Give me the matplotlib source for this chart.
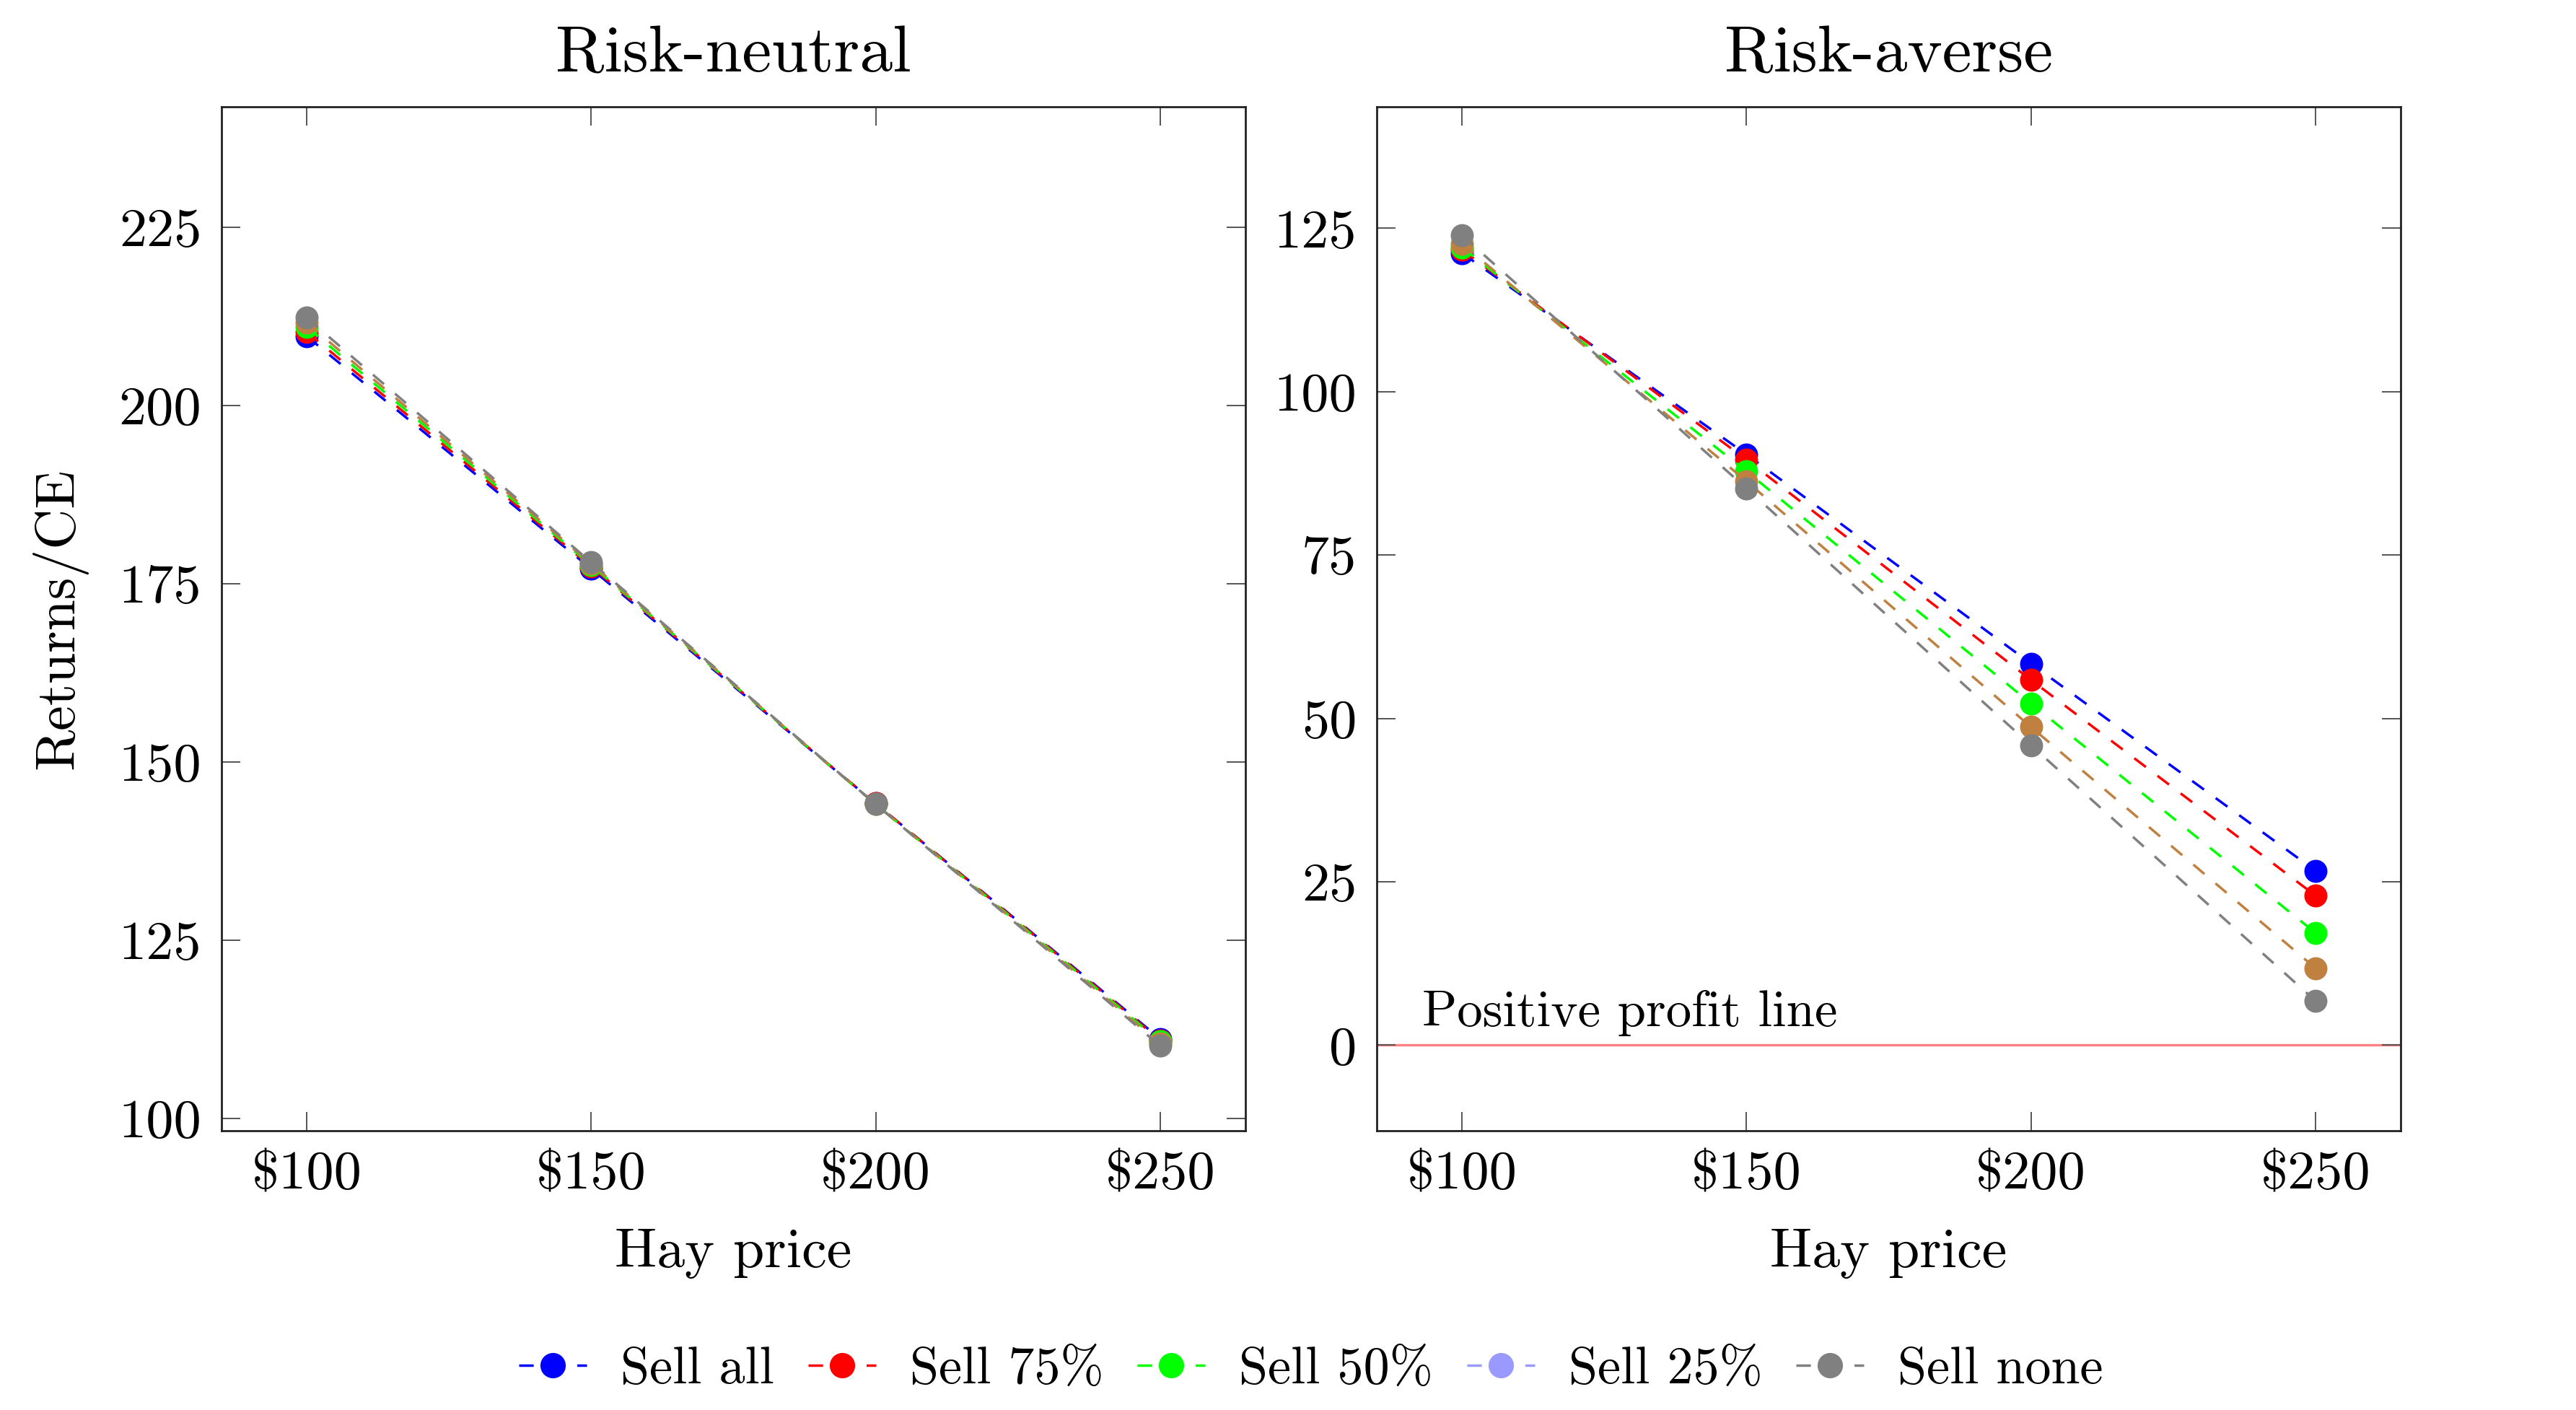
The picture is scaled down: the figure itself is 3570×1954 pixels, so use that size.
import matplotlib
matplotlib.use("Agg")
import matplotlib.pyplot as plt
from matplotlib.lines import Line2D

plt.rcParams['font.family'] = ['cmr10', 'DejaVu Serif']
plt.rcParams['axes.formatter.use_mathtext'] = True

hay_price = [100, 150, 200, 250]
x_tick_labels = ['\\$100', '\\$150', '\\$200', '\\$250']
series_names = ['Sell all', 'Sell 75%', 'Sell 50%', 'Sell 25%', 'Sell none']

neutral_sell_all = [209.7, 177.1, 144.2, 111.2]
neutral_sell_75 = [210.3, 177.4, 144.2, 111.0]
neutral_sell_50 = [211.0, 177.6, 144.1, 110.8]
neutral_sell_25 = [211.6, 177.8, 144.1, 110.5]
neutral_sell_none = [212.3, 178.0, 144.1, 110.2]

averse_sell_all = [121.2, 90.4, 58.4, 26.7]
averse_sell_75 = [121.7, 89.6, 55.9, 22.9]
averse_sell_50 = [122.1, 87.8, 52.3, 17.2]
averse_sell_25 = [122.6, 86.3, 48.7, 11.8]
averse_sell_none = [123.9, 85.2, 45.9, 6.8]

neutral_yticks = [100, 125, 150, 175, 200, 225]
averse_yticks = [0, 25, 50, 75, 100, 125]

line_colors = ['#0000FF', '#FF0000', '#00FF00', '#BF8040', '#808080']
legend_colors = ['#0000FF', '#FF0000', '#00FF00', '#9999FF', '#808080']

W, H = 3570, 1954
fig = plt.figure(figsize=(W / 100, H / 100), dpi=100)
ax_l = fig.add_axes([307 / W, 1 - 1567 / H, 1419 / W, 1419 / H])
ax_r = fig.add_axes([1908 / W, 1 - 1567 / H, 1419 / W, 1419 / H])

LW = 2.5
DASH = (0, (5.8, 5.8))
MS = 23
TICKFS = 55
LABELFS = 56
TITLEFS = 66

neutral = [neutral_sell_all, neutral_sell_75, neutral_sell_50, neutral_sell_25, neutral_sell_none]
averse = [averse_sell_all, averse_sell_75, averse_sell_50, averse_sell_25, averse_sell_none]

for ax, data, yticks, ylim, title in [
    (ax_l, neutral, neutral_yticks, (98.3, 241.9), 'Risk-neutral'),
    (ax_r, averse, averse_yticks, (-13.1, 143.6), 'Risk-averse'),
]:
    for vals, col, name in zip(data, line_colors, series_names):
        ax.plot(hay_price, vals, color=col, lw=LW, linestyle=DASH, marker='o',
                markersize=MS, markeredgewidth=0, label=name)
    ax.set_xlim(85, 265)
    ax.set_ylim(*ylim)
    ax.set_xticks(hay_price)
    ax.set_xticklabels(x_tick_labels)
    ax.set_yticks(yticks)
    ax.set_yticklabels([str(v) for v in yticks])
    ax.tick_params(axis='both', which='major', direction='in', top=True, right=True,
                   length=19, width=1.4, color='#555555', labelsize=TICKFS, pad=20)
    for s in ax.spines.values():
        s.set_linewidth(2.0)
        s.set_color('#222222')
    ax.set_title(title, fontsize=TITLEFS, pad=35)
    ax.set_xlabel('Hay price', fontsize=LABELFS, labelpad=29)

ax_l.set_ylabel('Returns/CE', fontsize=LABELFS, labelpad=31)

ax_r.axhline(0, color='#FF8080', lw=2.4, zorder=1)
ax_r.text(93.0, 2.9, 'Positive profit line', fontsize=51, ha='left', va='baseline')

handles = [Line2D([0], [0], color=c, lw=LW, linestyle=DASH, marker='o', markersize=MS,
                  markeredgewidth=0) for c in legend_colors]
fig.legend(handles, series_names, loc='center', bbox_to_anchor=(1817 / W, 1 - 1899 / H),
           ncol=5, frameon=False, fontsize=52, handlelength=1.3, handletextpad=0.65,
           columnspacing=0.65, markerscale=1.1)

fig.savefig('out.png', dpi=100)
